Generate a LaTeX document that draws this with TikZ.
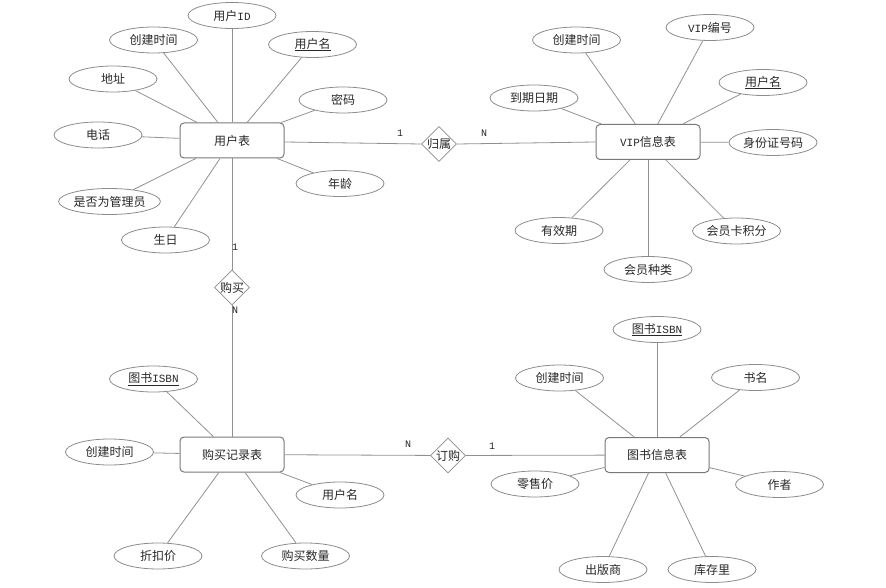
\documentclass[tikz,border=0pt]{standalone}
\usepackage{fontspec}
\setmainfont{Noto Sans CJK SC}
\newfontfamily\latmono{Liberation Mono}
\newcommand{\lm}[1]{{\latmono\fontsize{11}{14}\selectfont #1}}
\usetikzlibrary{shapes.geometric}
\definecolor{boxgray}{RGB}{120,120,120}
\definecolor{elgray}{RGB}{140,140,140}
\definecolor{lngray}{RGB}{145,145,145}
\definecolor{txt}{RGB}{40,40,40}
\begin{document}
\begin{tikzpicture}[x=1pt,y=-1pt,
  entity/.style={draw=boxgray, line width=1pt, rounded corners=4pt, minimum width=104pt, minimum height=35pt, fill=white, font=\fontsize{12}{14}\selectfont, text=txt},
  attr/.style={ellipse, draw=elgray, line width=0.8pt, minimum width=88pt, minimum height=26pt, inner sep=0pt, fill=white, font=\fontsize{12}{14}\selectfont, text=txt},
  rel/.style={diamond, draw=elgray, line width=0.8pt, minimum width=35pt, minimum height=35pt, inner sep=0pt, aspect=1, fill=white, font=\fontsize{12}{14}\selectfont, text=txt},
  link/.style={draw=lngray, line width=0.8pt},
  card/.style={font=\latmono\fontsize{10}{11}\selectfont, text=txt, inner sep=0pt}]
\useasboundingbox (0,0) rectangle (886,588);
% user table
\node[entity] (user) at (232,140.5) {用户表};
\node[attr] (uid) at (232,15.5) {用户\lm{ID}};
\node[attr] (uct) at (153.5,40) {创建时间};
\node[attr] (uname) at (312.5,44.5) {\underline{用户名}};
\node[attr] (uaddr) at (113,79) {地址};
\node[attr] (upwd) at (343,100) {密码};
\node[attr] (utel) at (98,135) {电话};
\node[attr] (uage) at (340,183.5) {年龄};
\node[attr] (uadmin) at (109.5,201.5) {是否为管理员};
\node[attr] (ubirth) at (165.5,240) {生日};
\foreach \a in {uid,uct,uname,uaddr,upwd,utel,uage,uadmin,ubirth} \draw[link] (\a) -- (user);
% VIP table
\node[rel] (gs) at (439,144) {归属};
\node[entity] (vip) at (648,142) {\lm{VIP}信息表};
\node[attr] (vct) at (576.5,40) {创建时间};
\node[attr] (vno) at (710,27.5) {\lm{VIP}编号};
\node[attr] (vexp) at (534,98) {到期日期};
\node[attr] (vname) at (763,82.5) {\underline{用户名}};
\node[attr] (vidc) at (773,142.5) {身份证号码};
\node[attr] (vval) at (559,230.5) {有效期};
\node[attr] (vpts) at (736.5,231) {会员卡积分};
\node[attr] (vtype) at (648,269.5) {会员种类};
\foreach \a in {vct,vno,vexp,vname,vidc,vval,vpts,vtype} \draw[link] (\a) -- (vip);
\draw[link] (user.east |- 0,142) -- (gs.west);
\draw[link] (gs.east) -- (vip.west);
\node[card] (c1) at (400,133) {1};
\node[card] (c2) at (484,133) {N};
% purchase record
\node[rel] (gm) at (232,287.5) {购买};
\node[entity] (buy) at (232,454.5) {购买记录表};
\node[attr] (bisbn) at (153.5,379) {\underline{图书\lm{ISBN}}};
\node[attr] (bct) at (109.5,452) {创建时间};
\node[attr] (bname) at (340,495) {用户名};
\node[attr] (bdisc) at (158,556) {折扣价};
\node[attr] (bqty) at (305.5,556) {购买数量};
\foreach \a in {bisbn,bct,bname,bdisc,bqty} \draw[link] (\a) -- (buy);
\draw[link] (user) -- (gm);
\draw[link] (gm) -- (buy);
\node[card] (c3) at (235,247) {1};
\node[card] (c4) at (235,310) {N};
% book info
\node[rel] (dg) at (448,455.5) {订购};
\node[entity] (book) at (657,455) {图书信息表};
\node[attr] (kisbn) at (657,329.5) {\underline{图书\lm{ISBN}}};
\node[attr] (kct) at (559.5,378) {创建时间};
\node[attr] (kname) at (755.5,377.5) {书名};
\node[attr] (kprice) at (535,484) {零售价};
\node[attr] (kauth) at (779.5,484.5) {作者};
\node[attr] (kpub) at (603,569.5) {出版商};
\node[attr] (kstock) at (712,569.5) {库存里};
\foreach \a in {kisbn,kct,kname,kprice,kauth,kpub,kstock} \draw[link] (\a) -- (book);
\draw[link] (buy) -- (dg);
\draw[link] (dg) -- (book);
\node[card] (c5) at (408,444) {N};
\node[card] (c6) at (492,446) {1};
\end{tikzpicture}
\end{document}
